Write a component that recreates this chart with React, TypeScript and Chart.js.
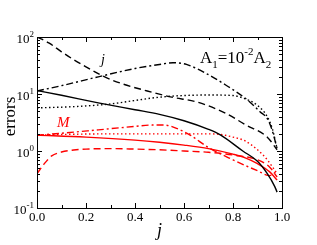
import { useEffect, useRef } from "react";
import { Chart, registerables } from "chart.js";

Chart.register(...registerables);

// ---- data ----
const jBlackDashed = [0, 0.05, 0.1, 0.15, 0.2, 0.27, 0.35, 0.45, 0.55, 0.65, 0.77, 0.85, 0.94, 0.98];
const errBlackDashed = [100, 78, 55, 40, 30, 20.5, 15, 11.3, 8.8, 7.3, 4.6, 2.9, 1.75, 1.05];

const jBlackDashDot = [0, 0.1, 0.25, 0.4, 0.5, 0.555, 0.61, 0.69, 0.77, 0.86, 0.91, 0.94, 0.96, 0.98];
const errBlackDashDot = [11.3, 14, 20, 28, 33, 35.4, 33, 23, 14.4, 7.8, 4.9, 3.7, 2.3, 1.1];

const jBlackDotted = [0, 0.15, 0.3, 0.4, 0.5, 0.6, 0.7, 0.8, 0.85, 0.9, 0.94, 0.96, 0.98];
const errBlackDotted = [5.7, 6.0, 6.7, 7.7, 8.8, 9.4, 9.6, 9.4, 8.2, 6.3, 4.0, 2.5, 1.1];

const jBlackSolid = [0, 0.1, 0.25, 0.4, 0.5, 0.6, 0.7, 0.75, 0.84, 0.9, 0.94, 0.97, 0.98];
const errBlackSolid = [11.5, 9.5, 7.0, 5.3, 4.4, 3.4, 2.4, 1.9, 1.0, 0.66, 0.4, 0.24, 0.19];

const jRedSolid = [0, 0.2, 0.4, 0.5, 0.6, 0.7, 0.8, 0.85, 0.9, 0.95, 0.98];
const errRedSolid = [1.9, 1.75, 1.55, 1.42, 1.27, 1.1, 0.88, 0.76, 0.6, 0.43, 0.31];

const jRedDashed = [0, 0.03, 0.06, 0.1, 0.15, 0.2, 0.3, 0.4, 0.5, 0.6, 0.7, 0.8, 0.9, 0.95, 0.98];
const errRedDashed = [0.4, 0.6, 0.82, 0.96, 1.04, 1.08, 1.1, 1.08, 1.05, 1.0, 0.95, 0.85, 0.7, 0.52, 0.35];

const jRedDotted = [0, 0.1, 0.3, 0.5, 0.7, 0.75, 0.8, 0.85, 0.9, 0.94, 0.98];
const errRedDotted = [1.9, 1.95, 2.0, 2.0, 2.0, 1.95, 1.75, 1.5, 1.05, 0.7, 0.4];

const jRedDashDot = [0, 0.1, 0.25, 0.4, 0.47, 0.52, 0.57, 0.625, 0.7, 0.8, 0.9, 0.95, 0.98];
const errRedDashDot = [1.9, 2.05, 2.35, 2.7, 2.85, 2.85, 2.5, 1.9, 1.15, 0.7, 0.45, 0.37, 0.45];

const xTickValues = [0, 0.2, 0.4, 0.6, 0.8, 1.0];
const xTickLabels = ["0.0", "0.2", "0.4", "0.6", "0.8", "1.0"];
const yDecadeExponents = [-1, 0, 1, 2];
const yTickLabelExps = ["-1", "0", "1", "2"];

const xTitle = "j";
const yTitle = "errors";

const SERIF = "'Liberation Serif', 'Times New Roman', serif";

function pts(xs: number[], ys: number[]) {
  return xs.map((x, i) => ({ x, y: ys[i] }));
}

export default function App() {
  const ref = useRef<HTMLCanvasElement | null>(null);

  useEffect(() => {
    document.body.style.margin = "0";
    const canvas = ref.current;
    if (!canvas) return;

    const mk = (data: { x: number; y: number }[], color: string, dash: number[]) => ({
      data,
      borderColor: color,
      backgroundColor: color,
      borderWidth: 1.4,
      borderDash: dash,
      pointRadius: 0,
      fill: false,
      cubicInterpolationMode: "monotone" as const,
    });

    const DASH = [7, 4];
    const DASHDOT = [7, 3, 2, 3];
    const DOT = [1.5, 2.5];

    const frame = {
      id: "frame",
      afterDraw(chart: any) {
        const ctx = chart.ctx as CanvasRenderingContext2D;
        const xs = chart.scales.x;
        const ys = chart.scales.y;
        const { left, right, top, bottom } = chart.chartArea;
        ctx.save();
        ctx.strokeStyle = "#000";
        ctx.lineWidth = 1;
        ctx.setLineDash([]);
        ctx.strokeRect(Math.round(left) + 0.5, Math.round(top) + 0.5, Math.round(right - left), Math.round(bottom - top));

        // x ticks (bottom and top, inward)
        ctx.beginPath();
        for (let i = 0; i <= 10; i++) {
          const v = i / 10;
          const px = Math.round(xs.getPixelForValue(v)) + 0.5;
          const len = i % 2 === 0 ? 5 : 3;
          ctx.moveTo(px, bottom);
          ctx.lineTo(px, bottom - len);
          ctx.moveTo(px, top);
          ctx.lineTo(px, top + len);
        }
        // y ticks (left and right, inward)
        for (const e of yDecadeExponents) {
          for (let m = 1; m <= 9; m++) {
            if (e === 2 && m > 1) break;
            const v = m * Math.pow(10, e);
            const py = Math.round(ys.getPixelForValue(v)) + 0.5;
            const len = m === 1 ? 5 : 3;
            ctx.moveTo(left, py);
            ctx.lineTo(left + len, py);
            ctx.moveTo(right, py);
            ctx.lineTo(right - len, py);
          }
        }
        ctx.stroke();

        // x tick labels
        ctx.fillStyle = "#000";
        ctx.font = `13px ${SERIF}`;
        ctx.textAlign = "center";
        ctx.textBaseline = "middle";
        xTickValues.forEach((v, i) => {
          ctx.fillText(xTickLabels[i], xs.getPixelForValue(v), bottom + 10);
        });

        // y tick labels 10^e
        yDecadeExponents.forEach((e, i) => {
          const py = ys.getPixelForValue(Math.pow(10, e));
          ctx.font = `9px ${SERIF}`;
          const expW = ctx.measureText(yTickLabelExps[i]).width;
          ctx.font = `13px ${SERIF}`;
          const baseW = ctx.measureText("10").width;
          const rightEdge = left - 3;
          ctx.textAlign = "left";
          ctx.textBaseline = "middle";
          ctx.fillText("10", rightEdge - expW - baseW, py + 3);
          ctx.font = `9px ${SERIF}`;
          ctx.fillText(yTickLabelExps[i], rightEdge - expW, py - 2);
        });

        // axis titles
        ctx.font = `italic 18px ${SERIF}`;
        ctx.textAlign = "center";
        ctx.textBaseline = "alphabetic";
        ctx.fillText(xTitle, (left + right) / 2, 236);

        ctx.save();
        ctx.translate(15, (top + bottom) / 2 - 6);
        ctx.rotate(-Math.PI / 2);
        ctx.font = `17px ${SERIF}`;
        ctx.textAlign = "center";
        ctx.textBaseline = "alphabetic";
        ctx.fillText(yTitle, 0, 0);
        ctx.restore();

        // annotations
        ctx.font = `italic 14px ${SERIF}`;
        ctx.textAlign = "center";
        ctx.fillStyle = "#000";
        ctx.fillText("j", 103, 64);

        ctx.fillStyle = "#ff0000";
        ctx.textAlign = "left";
        ctx.font = `italic 15px ${SERIF}`;
        ctx.fillText("M", 57, 127);

        // A1=10^-2 A2
        ctx.fillStyle = "#000";
        let x = 200;
        const big = `17px ${SERIF}`;
        const small = `11px ${SERIF}`;
        const parts: [string, string, number][] = [
          ["A", big, 63],
          ["1", small, 68],
          ["=10", big, 63],
          ["-2", small, 55],
          ["A", big, 63],
          ["2", small, 68],
        ];
        for (const [t, f, by] of parts) {
          ctx.font = f;
          ctx.fillText(t, x, by);
          x += ctx.measureText(t).width;
        }
        ctx.restore();
      },
    };

    const chart = new Chart(canvas, {
      type: "line",
      data: {
        datasets: [
          mk(pts(jBlackDashed, errBlackDashed), "#000000", DASH),
          mk(pts(jBlackDashDot, errBlackDashDot), "#000000", DASHDOT),
          mk(pts(jBlackDotted, errBlackDotted), "#000000", DOT),
          mk(pts(jBlackSolid, errBlackSolid), "#000000", []),
          mk(pts(jRedSolid, errRedSolid), "#ff0000", []),
          mk(pts(jRedDashed, errRedDashed), "#ff0000", DASH),
          mk(pts(jRedDotted, errRedDotted), "#ff0000", DOT),
          mk(pts(jRedDashDot, errRedDashDot), "#ff0000", DASHDOT),
        ],
      },
      options: {
        animation: false,
        responsive: true,
        maintainAspectRatio: false,
        events: [],
        layout: { padding: { left: 37, top: 37, right: 35, bottom: 37 } },
        plugins: { legend: { display: false }, tooltip: { enabled: false } },
        scales: {
          x: { type: "linear", min: 0, max: 1, display: false },
          y: { type: "logarithmic", min: 0.1, max: 100, display: false },
        },
      },
      plugins: [frame],
    });

    return () => chart.destroy();
  }, []);

  return (
    <div style={{ width: 317, height: 245, position: "relative", background: "#fff" }}>
      <canvas ref={ref} />
    </div>
  );
}
